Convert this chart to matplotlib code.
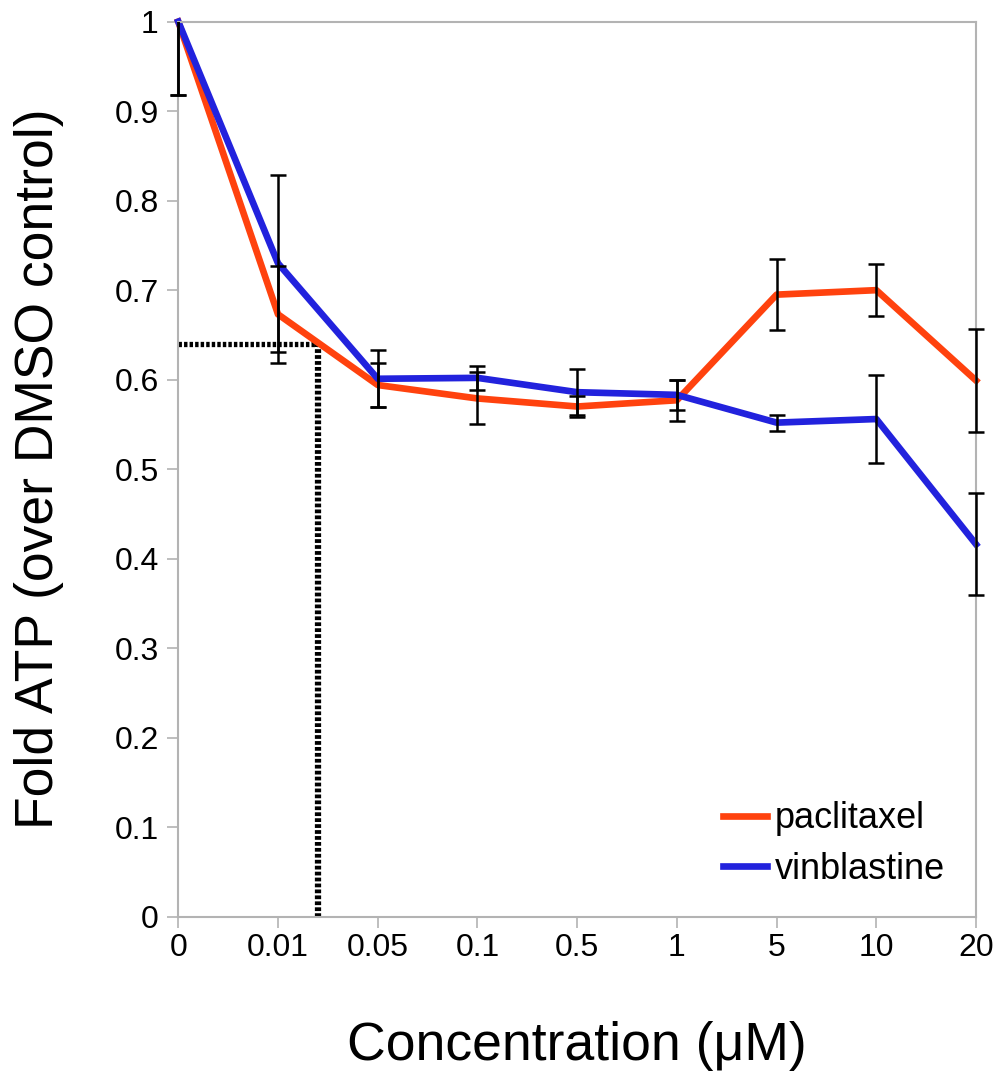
import numpy as np
import matplotlib.pyplot as plt
from matplotlib.patches import Rectangle

plt.rcParams['font.family'] = ['Liberation Sans', 'DejaVu Sans']

## Data
conc_labels = ["0", "0.01", "0.05", "0.1", "0.5", "1", "5", "10", "20"]

paclitaxel     = [1.000, 0.673, 0.594, 0.579, 0.570, 0.577, 0.695, 0.700, 0.599]
paclitaxel_err = [0.082, 0.054, 0.025, 0.029, 0.012, 0.023, 0.040, 0.029, 0.058]

vinblastine     = [1.000, 0.730, 0.601, 0.602, 0.586, 0.583, 0.552, 0.556, 0.416]
vinblastine_err = [0.082, 0.099, 0.032, 0.013, 0.026, 0.017, 0.009, 0.049, 0.057]

# dotted guide: 0.64 fold ATP reached between 0.01 and 0.05
guide_x = 1.4
guide_y = 0.64

red  = "#ff420e"
blue = "#2222dd"
grey = "#b3b3b3"

x = np.arange(len(conc_labels))

## Plot
fig = plt.figure(figsize=(9.96, 10.72), dpi=100)
ax = fig.add_axes([0.179, 0.1449, 0.801, 0.8349])

# guide lines
ax.plot([0, guide_x], [guide_y, guide_y], color="black", lw=3.8,
        linestyle=(0, (0.65, 0.4)), zorder=1)
ax.plot([guide_x, guide_x], [0, guide_y], color="black", lw=4.5,
        linestyle=(0, (0.6, 0.35)), zorder=1)

ax.plot(x, paclitaxel, color=red, lw=4.8, label="paclitaxel", zorder=2, clip_on=False)
ax.plot(x, vinblastine, color=blue, lw=4.8, label="vinblastine", zorder=2, clip_on=False)

# error bars: clipped at the top of the plot only, caps may run past the side borders
clip = Rectangle((-0.05, -0.05), 1.1, 1.05, transform=ax.transAxes,
                 facecolor="none", edgecolor="none")
for vals, errs in [(paclitaxel, paclitaxel_err), (vinblastine, vinblastine_err)]:
    eb = ax.errorbar(x, vals, yerr=errs, fmt="none", ecolor="black",
                     elinewidth=1.8, capsize=6, capthick=1.8, zorder=3)
    for art in list(eb.lines[1]) + list(eb.lines[2]):
        art.set_clip_path(clip)

ax.set_xlim(0, len(conc_labels) - 1)
ax.set_ylim(0, 1)
ax.set_xticks(x)
ax.set_xticklabels(conc_labels)
ax.set_yticks(np.arange(0, 1.01, 0.1))
ax.set_yticklabels(["0"] + ["%.1f" % v for v in np.arange(0.1, 0.95, 0.1)] + ["1"])

for s in ax.spines.values():
    s.set_color(grey)
    s.set_linewidth(1.5)

ax.tick_params(axis="both", colors=grey, labelcolor="black", labelsize=23,
               length=8, width=1.2, direction="out")
ax.tick_params(axis="x", pad=4)
ax.tick_params(axis="y", pad=6)

ax.set_xlabel("Concentration (\u03bcM)", fontsize=38.5)
ax.set_ylabel("Fold ATP (over DMSO control)", fontsize=38.5)
ax.xaxis.set_label_coords(0.5, -0.1165)
ax.yaxis.set_label_coords(-0.1428, 0.5)

ax.legend(loc="center left", bbox_to_anchor=(0.683, 0.081), frameon=False,
          fontsize=26, handlelength=1.22, handletextpad=0.22,
          labelspacing=0.44, borderpad=0, borderaxespad=0)

plt.savefig("out.png")
plt.close()
